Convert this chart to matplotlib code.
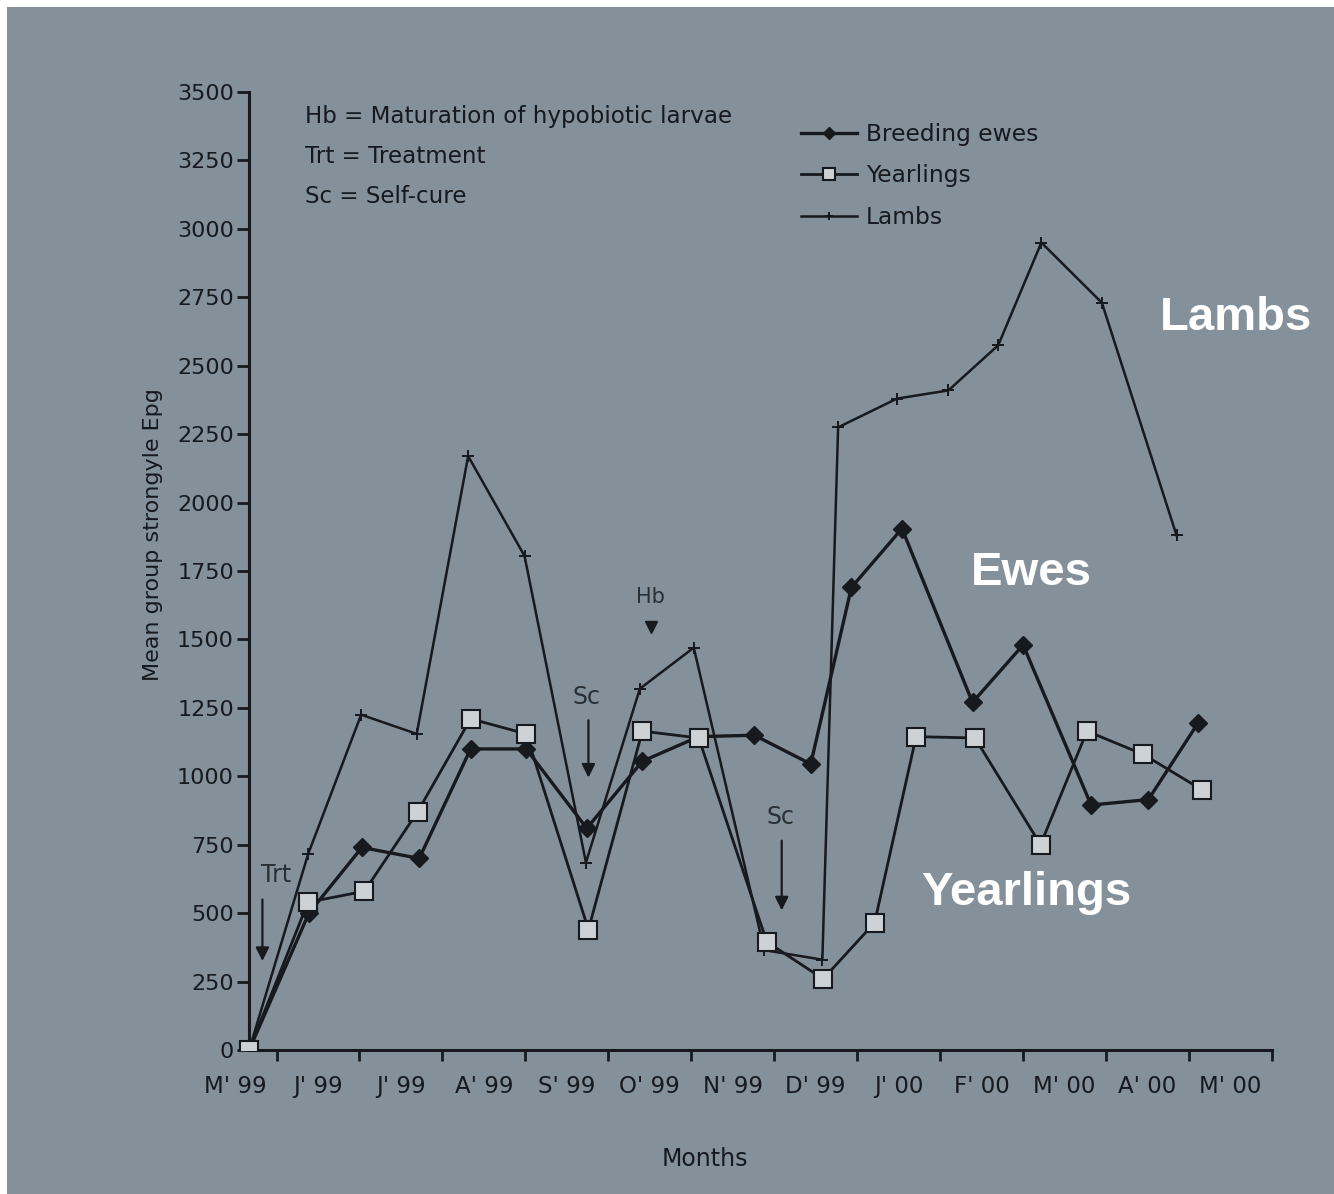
import matplotlib
matplotlib.use('Agg')
import matplotlib.pyplot as plt
from matplotlib.patches import Rectangle

# month labels along the x axis (labels sit between the tick marks)
months = ["M' 99", "J' 99", "J' 99", "A' 99", "S' 99", "O' 99", "N' 99",
          "D' 99", "J' 00", "F' 00", "M' 00", "A' 00", "M' 00"]

# sampling times (months from start) and mean strongyle Epg per group
ewes_x = [0, 0.72, 1.36, 2.05, 2.67, 3.34, 4.07, 4.74, 5.42, 6.09, 6.77,
          7.26, 7.87, 8.72, 9.33, 10.15, 10.84, 11.44]
ewes_y = [0, 500, 740, 700, 1100, 1100, 810, 1055, 1145, 1150, 1045,
          1690, 1905, 1270, 1480, 895, 915, 1195]

year_x = [0, 0.71, 1.39, 2.03, 2.67, 3.34, 4.09, 4.74, 5.42, 6.24, 6.92,
          7.54, 8.04, 8.75, 9.54, 10.10, 10.78, 11.49]
year_y = [0, 540, 580, 870, 1210, 1155, 440, 1165, 1140, 395, 260,
          465, 1145, 1140, 750, 1165, 1080, 950]

lamb_x = [0, 0.71, 1.35, 2.02, 2.64, 3.32, 4.06, 4.71, 5.36, 6.21, 6.91,
          7.10, 7.81, 8.43, 9.03, 9.55, 10.28, 11.18]
lamb_y = [0, 715, 1225, 1155, 2170, 1805, 685, 1320, 1470, 365, 330,
          2275, 2380, 2410, 2575, 2950, 2730, 1880]

# event markers: (label, x, text y, arrow start y, arrow tip y)
arrows = [("Trt", 0.16, 640, 560, 315),
          ("Sc", 4.09, 1290, 1215, 985),
          ("Sc", 6.42, 850, 775, 500)]
hb_x, hb_text_y, hb_mark_y = 4.84, 1655, 1545

ink = '#16191d'
paper = '#84919b'

fig = plt.figure(figsize=(13.34, 11.94), dpi=100)
fig.patch.set_facecolor('white')
fig.patches.append(Rectangle((7 / 1334, 0), 1, 1 - 7 / 1194,
                             transform=fig.transFigure, facecolor=paper,
                             edgecolor='none', zorder=-10))

ax = fig.add_axes([0.165, 0.1206, 0.9535 - 0.165, 0.8023])
ax.set_facecolor('none')

ax.plot(lamb_x, lamb_y, color=ink, lw=1.8, marker='+', ms=9, mew=1.4,
        label='Lambs', zorder=3)
ax.plot(ewes_x, ewes_y, color=ink, lw=2.4, marker='D', ms=9,
        mfc=ink, mec=ink, label='Breeding ewes', zorder=4)
ax.plot(year_x, year_y, color=ink, lw=2.0, marker='s', ms=13,
        mfc='#cdd2d6', mec=ink, mew=1.5, label='Yearlings', zorder=5)

# axes
ax.set_xlim(-0.35, 12.33)
ax.set_ylim(0, 3500)
ax.spines['top'].set_visible(False)
ax.spines['right'].set_visible(False)
ax.spines['left'].set_position(('data', 0))
ax.spines['bottom'].set_bounds(0, 12.33)
for s in ('left', 'bottom'):
    ax.spines[s].set_color(ink)
    ax.spines[s].set_linewidth(2.2)

ax.set_yticks(range(0, 3501, 250))
ax.tick_params(axis='y', direction='out', length=9, width=2, colors=ink,
               labelsize=16, pad=2)
ax.set_xticks([k + 0.33 for k in range(13)])
ax.set_xticklabels([])
ax.set_xticks([k - 0.17 for k in range(13)], minor=True)
ax.set_xticklabels(months, minor=True)
ax.tick_params(axis='x', which='major', direction='out', length=8, width=2,
               colors=ink)
ax.tick_params(axis='x', which='minor', length=0, labelsize=16.5, pad=18,
               labelcolor=ink)

ax.set_ylabel('Mean group strongyle Epg', fontsize=16, color=ink)
ax.yaxis.set_label_coords(-0.054, 0.538)
ax.set_xlabel('Months', fontsize=17, color=ink)
ax.xaxis.set_label_coords(0.461, -0.101)

# event annotations
for lab, x, ty, y0, y1 in arrows:
    ax.annotate('', xy=(x, y1), xytext=(x, y0),
                arrowprops=dict(arrowstyle='-|>', color=ink, lw=1.6,
                                mutation_scale=20))
    ax.text(x - 0.02, ty, lab, fontsize=17, color='#2a2f34',
            ha='center' if lab != 'Trt' else 'left', va='center')
ax.text(hb_x, hb_text_y, 'Hb', fontsize=15, color='#2a2f34',
        ha='center', va='center')
ax.plot([hb_x], [hb_mark_y], marker='v', ms=8, color=ink, ls='none')

# key text
keys = ['Hb = Maturation of hypobiotic larvae', 'Trt = Treatment',
        'Sc = Self-cure']
for i, t in enumerate(keys):
    ax.text(0.081, 0.975 - i * 0.042, t, transform=ax.transAxes,
            fontsize=16.6, color=ink, va='center', ha='left')

leg = ax.legend(handles=[ax.lines[1], ax.lines[2], ax.lines[0]],
                loc='upper left', bbox_to_anchor=(0.552, 0.968),
                frameon=False, fontsize=16.8, handlelength=2.4,
                handletextpad=0.4, labelspacing=0.8, borderpad=0,
                borderaxespad=0, markerscale=0.65, numpoints=1)
for t in leg.get_texts():
    t.set_color(ink)

# overlaid white group labels
for t, px, py in [('Lambs', 1236, 318), ('Ewes', 1031, 573),
                  ('Yearlings', 1026, 893)]:
    fig.text(px / 1334, 1 - py / 1194, t, fontsize=34, fontweight='bold',
             family=['Liberation Sans', 'DejaVu Sans'], color='white',
             ha='center', va='center')

fig.savefig('out.png', dpi=100, facecolor=fig.get_facecolor())
